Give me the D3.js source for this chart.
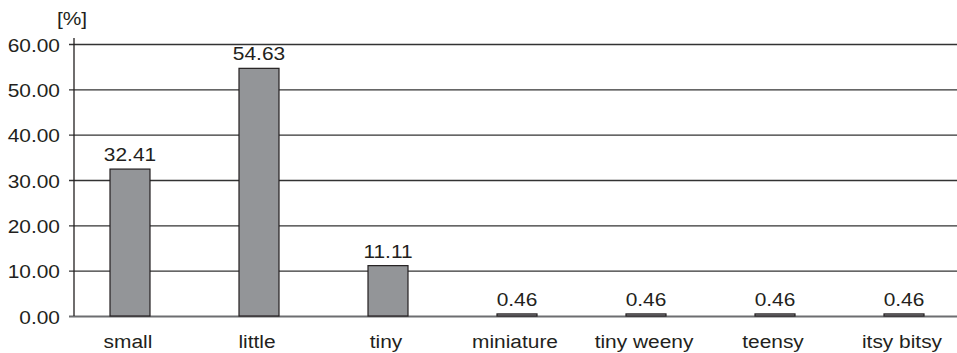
<!DOCTYPE html>
<html>
<head>
<meta charset="utf-8">
<script src="https://cdn.jsdelivr.net/npm/d3@7"></script>
<style>
  html, body { margin: 0; padding: 0; background: #fff; }
  svg { display: block; font-family: "Liberation Sans", Arial, Helvetica, sans-serif; }
</style>
</head>
<body>
<svg id="chart" width="957" height="353"></svg>
<script>
// Share of each word, in percent
const categories = ["small", "little", "tiny", "miniature", "tiny weeny", "teensy", "itsy bitsy"];
const values = [32.41, 54.63, 11.11, 0.46, 0.46, 0.46, 0.46];
const yTicks = [0, 10, 20, 30, 40, 50, 60];
const unitLabel = "[%]";

const svg = d3.select("#chart");
const axisX = 74, plotRight = 957;
const yTop = 44, yBottom = 316;

const textColor = "#231f20";
const fontSize = 19;
const stretch = 1.1; // slightly wide lettering

const y = d3.scaleLinear().domain([0, 60]).range([yBottom, yTop]);
const x = d3.scaleBand()
  .domain(categories)
  .range([65.5, 968.5])
  .paddingInner(0.69)
  .paddingOuter(0.345);

const fmt = d3.format(".2f");

// Common text styling
function label(sel, anchor) {
  return sel
    .attr("text-anchor", anchor)
    .attr("font-size", fontSize)
    .attr("fill", textColor);
}

// Horizontal gridlines
const yAxis = d3.axisLeft(y)
  .tickValues(yTicks)
  .tickSize(-(plotRight - axisX))
  .tickFormat("");

const gy = svg.append("g")
  .attr("transform", `translate(${axisX},0)`)
  .call(yAxis);
gy.select(".domain").remove();
gy.selectAll(".tick line")
  .attr("stroke", "#333")
  .attr("stroke-width", 1.3)
  .attr("x1", -5);
gy.selectAll(".tick text").remove();
gy.selectAll(".tick").filter(d => d === 0).select("line")
  .attr("stroke", "#6d6e71")
  .attr("stroke-width", 1.8);

// Tick labels
label(svg.append("g").selectAll("text")
  .data(yTicks)
  .join("text"), "end")
  .attr("transform", d => `translate(60,${y(d) + 7.5}) scale(${stretch},1)`)
  .text(d => fmt(d));

// Vertical axis line
svg.append("line")
  .attr("x1", axisX).attr("x2", axisX)
  .attr("y1", yTop - 6).attr("y2", yBottom)
  .attr("stroke", "#231f20")
  .attr("stroke-width", 1.3);

// Unit label
label(svg.append("text"), "middle")
  .attr("transform", `translate(72,25) scale(${stretch},1)`)
  .text(unitLabel);

// Bars
svg.append("g").selectAll("rect")
  .data(values)
  .join("rect")
  .attr("x", (d, i) => x(categories[i]))
  .attr("width", x.bandwidth())
  .attr("y", d => y(d))
  .attr("height", d => y(0) - y(d))
  .attr("fill", "#939598")
  .attr("stroke", "#231f20")
  .attr("stroke-width", 1.2);

// Value labels
label(svg.append("g").selectAll("text")
  .data(values)
  .join("text"), "middle")
  .attr("transform", (d, i) =>
    `translate(${x(categories[i]) + x.bandwidth() / 2},${y(d) - 8}) scale(${stretch},1)`)
  .text(d => fmt(d));

// Category labels
label(svg.append("g").selectAll("text")
  .data(categories)
  .join("text"), "middle")
  .attr("transform", d =>
    `translate(${x(d) + x.bandwidth() / 2 - 2},${yBottom + 32}) scale(${stretch},1)`)
  .text(d => d);
</script>
</body>
</html>
